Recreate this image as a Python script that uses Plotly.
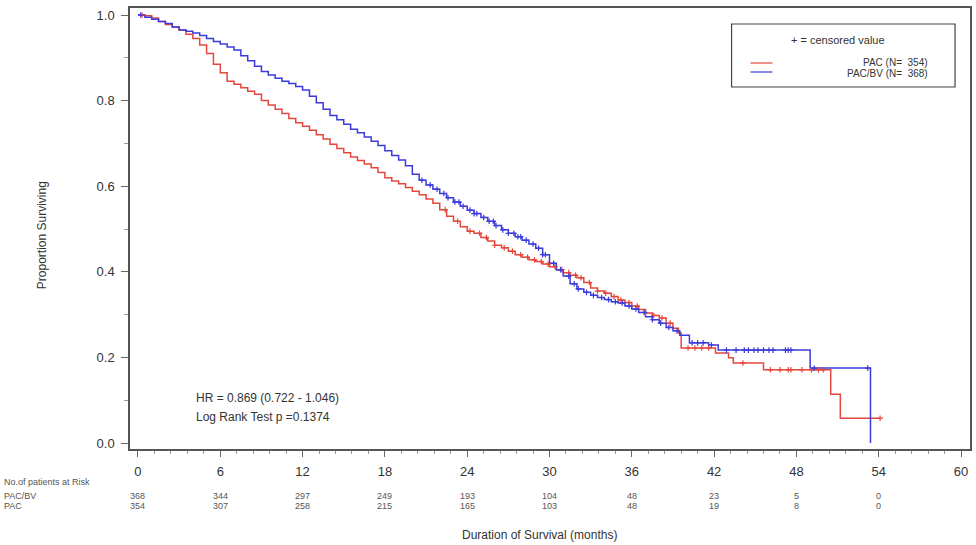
import plotly.graph_objects as go

# ---------------- data ----------------
bv_time = [0, 0.5, 1.0, 1.5, 2, 2.5, 3, 3.5, 4, 4.5, 5, 5.5, 6, 6.5, 7, 7.5, 8, 8.5, 9, 9.5,
           10, 10.5, 11, 11.5, 12, 12.5, 13, 13.5, 14, 14.5, 15, 15.5, 16, 16.5, 17, 17.5, 18,
           18.5, 19, 19.5, 20, 20.5, 21, 21.5, 22, 22.5, 23, 23.5, 24, 24.5, 25, 25.5, 26, 26.5,
           27, 27.5, 28, 28.5, 29, 29.5, 30, 30.5, 31, 31.5, 32, 32.5, 33, 33.5, 34, 34.5, 35,
           35.5, 36, 36.5, 37, 37.5, 38, 38.5, 39, 39.5, 40.2, 41.6, 42.3, 49.0, 53.4]
bv_surv = [1.0, 0.995, 0.99, 0.985, 0.98, 0.972, 0.965, 0.962, 0.958, 0.952, 0.945, 0.938, 0.932,
           0.925, 0.918, 0.905, 0.893, 0.88, 0.868, 0.86, 0.852, 0.845, 0.84, 0.833, 0.825, 0.81,
           0.795, 0.78, 0.765, 0.755, 0.745, 0.733, 0.725, 0.715, 0.705, 0.695, 0.683, 0.672,
           0.661, 0.648, 0.628, 0.614, 0.603, 0.593, 0.583, 0.573, 0.563, 0.553, 0.544, 0.536,
           0.527, 0.518, 0.508, 0.498, 0.49, 0.482, 0.474, 0.465, 0.455, 0.44, 0.42, 0.405, 0.39,
           0.372, 0.36, 0.352, 0.345, 0.34, 0.335, 0.33, 0.327, 0.32, 0.313, 0.305, 0.295, 0.288,
           0.28, 0.27, 0.262, 0.252, 0.234, 0.229, 0.217, 0.175, 0.0]

pac_time = [0, 0.5, 1, 1.5, 2, 2.5, 3, 3.5, 4, 4.5, 5, 5.5, 6, 6.5, 7, 7.5, 8, 8.5, 9, 9.5, 10,
            10.5, 11, 11.5, 12, 12.5, 13, 13.5, 14, 14.5, 15, 15.5, 16, 16.5, 17, 17.5, 18, 18.5,
            19, 19.5, 20, 20.5, 21, 21.5, 22, 22.5, 23, 23.5, 24, 24.5, 25, 25.5, 26, 26.5, 27,
            27.5, 28, 28.5, 29, 29.5, 30, 30.5, 31, 31.5, 32, 32.5, 33, 33.5, 34, 34.5, 35, 35.5,
            36, 36.5, 37, 37.5, 38, 38.5, 39, 39.4, 39.6, 42.1, 43.05, 43.4, 45.6, 50.5, 51.2, 54.1]
pac_surv = [1.0, 0.998, 0.993, 0.985, 0.978, 0.972, 0.965, 0.955, 0.945, 0.93, 0.91, 0.885, 0.865,
            0.845, 0.838, 0.83, 0.822, 0.815, 0.8, 0.79, 0.78, 0.77, 0.758, 0.748, 0.74, 0.731,
            0.72, 0.71, 0.698, 0.688, 0.678, 0.668, 0.66, 0.652, 0.643, 0.632, 0.62, 0.612, 0.606,
            0.597, 0.588, 0.58, 0.57, 0.56, 0.545, 0.53, 0.518, 0.505, 0.495, 0.49, 0.48, 0.472,
            0.462, 0.456, 0.448, 0.44, 0.434, 0.428, 0.424, 0.418, 0.412, 0.405, 0.398, 0.392,
            0.386, 0.375, 0.362, 0.355, 0.35, 0.342, 0.334, 0.328, 0.32, 0.312, 0.304, 0.298,
            0.292, 0.28, 0.268, 0.257, 0.222, 0.21, 0.199, 0.187, 0.171, 0.114, 0.058, 0.058]

bv_censor = [0.2, 20.7, 21.3, 21.8, 22.3, 22.6, 23.1, 23.4, 23.7, 24.2, 24.5, 24.7, 25.2, 25.6,
             25.9, 26.1, 26.6, 27.0, 27.4, 27.7, 27.9, 28.3, 28.8, 29.2, 29.5, 29.7, 30.3, 30.8,
             31.4, 31.8, 32.1, 32.7, 33.2, 33.8, 34.3, 34.8, 35.3, 35.8, 36.3, 36.9, 37.5, 38.1,
             38.7, 39.3, 40.4, 40.8, 41.2, 41.8, 42.9, 43.6, 44.2, 44.5, 44.9, 45.2, 45.6, 46.0,
             46.3, 47.2, 47.4, 47.6, 49.3, 53.2]
pac_censor = [0.3, 22.4, 23.3, 24.2, 24.9, 25.4, 26.0, 26.7, 27.3, 27.9, 28.4, 28.9, 29.4, 29.9,
              30.4, 30.9, 31.4, 31.9, 32.3, 32.9, 33.5, 34.1, 34.7, 35.2, 35.8, 36.4, 37.0, 37.6,
              38.2, 38.8, 40.1, 40.6, 41.1, 41.6, 44.1, 46.1, 46.8, 47.4, 47.6, 48.4, 49.1, 49.6,
              49.96, 54.1]

risk_times = [0, 6, 12, 18, 24, 30, 36, 42, 48, 54]
risk_bv = [368, 344, 297, 249, 193, 104, 48, 23, 5, 0]
risk_pac = [354, 307, 258, 215, 165, 103, 48, 19, 8, 0]

x_ticks = [0, 6, 12, 18, 24, 30, 36, 42, 48, 54, 60]
y_ticks = [0.0, 0.2, 0.4, 0.6, 0.8, 1.0]
y_tick_text = ["0.0", "0.2", "0.4", "0.6", "0.8", "1.0"]

RED = "#e5473c"
BLUE = "#3b3bdc"
FONT = "Liberation Sans, Arial, sans-serif"


def step_at(times, survs, t):
    val = survs[0]
    for tt, s in zip(times, survs):
        if tt <= t:
            val = s
        else:
            break
    return val


fig = go.Figure()
fig.add_trace(go.Scatter(x=pac_time, y=pac_surv, mode="lines", line=dict(color=RED, width=1.5, shape="hv"),
                         name="PAC", showlegend=False))
fig.add_trace(go.Scatter(x=bv_time, y=bv_surv, mode="lines", line=dict(color=BLUE, width=1.5, shape="hv"),
                         name="PAC/BV", showlegend=False))
fig.add_trace(go.Scatter(x=pac_censor, y=[step_at(pac_time, pac_surv, t) for t in pac_censor], mode="markers",
                         marker=dict(symbol="cross-thin", size=4, line=dict(color=RED, width=1.2)),
                         showlegend=False))
fig.add_trace(go.Scatter(x=bv_censor, y=[step_at(bv_time, bv_surv, t) for t in bv_censor], mode="markers",
                         marker=dict(symbol="cross-thin", size=4, line=dict(color=BLUE, width=1.2)),
                         showlegend=False))

L, R, T, B = 130, 4, 8, 96
W, H = 976, 545
pw, ph = W - L - R, H - T - B


def px(xp):
    return (xp - L) / pw


def py(yp):
    return (H - B - yp) / ph


TXT = "#333"
SMALL = "#555"
annotations = []
# risk table
annotations.append(dict(x=px(2), y=py(482), xref="paper", yref="paper", text="No.of patients at Risk",
                        showarrow=False, xanchor="left", yanchor="middle", font=dict(size=9, color=SMALL)))
annotations.append(dict(x=px(2), y=py(496), xref="paper", yref="paper", text="PAC/BV",
                        showarrow=False, xanchor="left", yanchor="middle", font=dict(size=9, color=SMALL)))
annotations.append(dict(x=px(2), y=py(506), xref="paper", yref="paper", text="PAC",
                        showarrow=False, xanchor="left", yanchor="middle", font=dict(size=9, color=SMALL)))
for t, a, b in zip(risk_times, risk_bv, risk_pac):
    annotations.append(dict(x=t, y=py(496), xref="x", yref="paper", text=str(a), showarrow=False,
                            xanchor="center", yanchor="middle", font=dict(size=9, color=SMALL)))
    annotations.append(dict(x=t, y=py(506), xref="x", yref="paper", text=str(b), showarrow=False,
                            xanchor="center", yanchor="middle", font=dict(size=9, color=SMALL)))
# axis titles
annotations.append(dict(x=px(540), y=py(535), xref="paper", yref="paper", text="Duration of Survival (months)",
                        showarrow=False, xanchor="center", yanchor="middle", font=dict(size=12, color=TXT)))
annotations.append(dict(x=px(42), y=py(235), xref="paper", yref="paper", text="Proportion Surviving",
                        textangle=-90, showarrow=False, xanchor="center", yanchor="middle",
                        font=dict(size=12, color=TXT)))
# HR text
annotations.append(dict(x=px(194), y=py(398), xref="paper", yref="paper", text="HR = 0.869 (0.722 - 1.046)",
                        showarrow=False, xanchor="left", yanchor="middle", font=dict(size=12, color=TXT)))
annotations.append(dict(x=px(194), y=py(417), xref="paper", yref="paper", text="Log Rank Test p =0.1374",
                        showarrow=False, xanchor="left", yanchor="middle", font=dict(size=12, color=TXT)))
# legend texts
annotations.append(dict(x=px(840), y=py(40), xref="paper", yref="paper", text="+ = censored value",
                        showarrow=False, xanchor="center", yanchor="middle", font=dict(size=11, color=TXT)))
annotations.append(dict(x=px(932), y=py(62), xref="paper", yref="paper", text="PAC (N=  354)",
                        showarrow=False, xanchor="right", yanchor="middle", font=dict(size=10, color=TXT)))
annotations.append(dict(x=px(932), y=py(73), xref="paper", yref="paper", text="PAC/BV (N=  368)",
                        showarrow=False, xanchor="right", yanchor="middle", font=dict(size=10, color=TXT)))

shapes = [
    dict(type="rect", xref="paper", yref="paper", x0=px(733), x1=px(957), y0=py(87), y1=py(24),
         line=dict(color="#444", width=1.2), fillcolor="white"),
    dict(type="line", xref="paper", yref="paper", x0=px(752), x1=px(774), y0=py(63), y1=py(63),
         line=dict(color=RED, width=1.2)),
    dict(type="line", xref="paper", yref="paper", x0=px(752), x1=px(774), y0=py(72), y1=py(72),
         line=dict(color=BLUE, width=1.2)),
]

x0_month = (L - 138) / 13.75
x1_month = (W - R - 138) / 13.75
y_top = 1.0 + (15 - T) / 428
y_bot = 0.0 - (H - B - 443) / 428

fig.update_layout(
    width=W, height=H,
    margin=dict(l=L, r=R, t=T, b=B),
    paper_bgcolor="white", plot_bgcolor="white",
    font=dict(family=FONT, color=TXT),
    annotations=annotations, shapes=shapes,
    xaxis=dict(range=[x0_month, x1_month], tickvals=x_ticks, ticks="outside", ticklen=6,
               tickcolor="#666", showline=True, linecolor="#555", linewidth=1.5, mirror=True,
               showgrid=False, zeroline=False, tickfont=dict(size=13, color=TXT),
               ticklabelstandoff=4,
               minor=dict(ticks="outside", dtick=1.2, tick0=0, ticklen=3, tickcolor="#999")),
    yaxis=dict(range=[y_bot, y_top], tickvals=y_ticks, ticktext=y_tick_text,
               ticks="outside", ticklen=7, tickcolor="#666", showline=True, linecolor="#555",
               linewidth=1.5, mirror=True, showgrid=False, zeroline=False,
               tickfont=dict(size=13, color=TXT), ticklabelstandoff=4,
               minor=dict(ticks="outside", dtick=0.1, tick0=0, ticklen=4, tickcolor="#999")),
)

fig.write_html("out.html")
